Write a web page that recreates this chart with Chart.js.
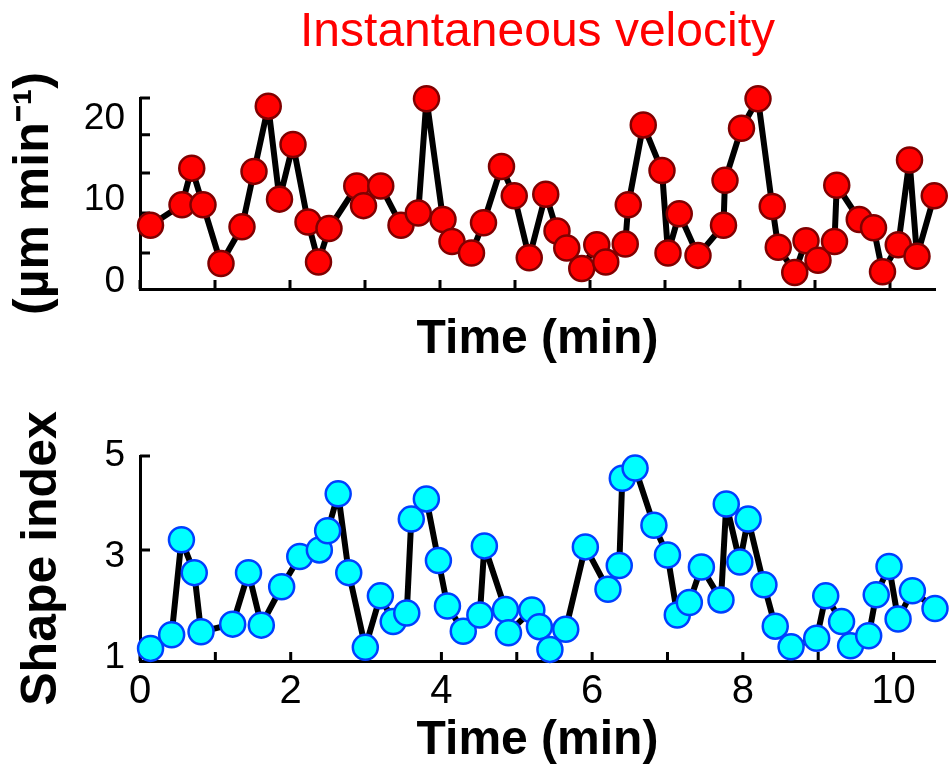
<!DOCTYPE html>
<html>
<head>
<meta charset="utf-8">
<script src="https://cdn.jsdelivr.net/npm/chart.js@4.4.1/dist/chart.umd.min.js"></script>
<style>
html, body { margin: 0; padding: 0; background: #fff; overflow: hidden; }
#velocityChart { position: absolute; left: 0; top: 0; }
#shapeChart { position: absolute; left: 0; top: 385px; }
</style>
</head>
<body>
<canvas id="velocityChart" width="950" height="385"></canvas>
<canvas id="shapeChart" width="950" height="390"></canvas>
<script>
// instantaneous velocity (um/min) against time (min)
var velTime = [0.14, 0.56, 0.69, 0.84, 1.08, 1.36, 1.52, 1.71, 1.86, 2.04,
               2.24, 2.38, 2.52, 2.89, 2.98, 3.21, 3.48, 3.71, 3.82, 4.04,
               4.16, 4.42, 4.58, 4.82, 4.99, 5.19, 5.41, 5.56, 5.69, 5.89,
               6.09, 6.21, 6.47, 6.51, 6.71, 6.96, 7.04, 7.19, 7.44, 7.78,
               7.80, 8.02, 8.24, 8.43, 8.51, 8.73, 8.88, 9.04, 9.26, 9.29,
               9.59, 9.78, 9.90, 10.11, 10.26, 10.36, 10.59];
var velValues = [6.9, 9.4, 13.9, 9.4, 2.2, 6.7, 13.5, 21.5, 10.1, 16.8,
                 7.3, 2.4, 6.5, 11.7, 9.3, 11.7, 6.9, 8.4, 22.4, 7.6,
                 4.9, 3.5, 7.2, 14.1, 10.5, 2.9, 10.7, 6.2, 4.1, 1.6,
                 4.5, 2.4, 4.6, 9.4, 19.2, 13.6, 3.5, 8.3, 3.2, 6.9,
                 12.4, 18.8, 22.4, 9.2, 4.2, 1.1, 5.0, 2.6, 4.9, 11.8,
                 7.6, 6.6, 1.2, 4.5, 14.9, 3.1, 10.5];

// shape index against time (min)
var shapeTime = [0.14, 0.42, 0.55, 0.72, 0.81, 1.23, 1.44, 1.61, 1.88, 2.12,
                 2.38, 2.49, 2.63, 2.77, 2.99, 3.19, 3.36, 3.54, 3.60, 3.80,
                 3.96, 4.08, 4.29, 4.51, 4.57, 4.85, 4.89, 5.20, 5.30, 5.44,
                 5.65, 5.91, 6.21, 6.36, 6.40, 6.57, 6.82, 7.00, 7.13, 7.29,
                 7.45, 7.71, 7.78, 7.96, 8.07, 8.28, 8.43, 8.64, 8.98, 9.10,
                 9.31, 9.43, 9.67, 9.77, 9.94, 10.06, 10.25, 10.55];
var shapeValues = [1.19, 1.46, 3.34, 2.69, 1.52, 1.67, 2.69, 1.65, 2.41, 3.01,
                   3.14, 3.52, 4.25, 2.69, 1.21, 2.23, 1.72, 1.89, 3.75, 4.15,
                   2.93, 2.03, 1.53, 1.85, 3.22, 1.96, 1.50, 1.95, 1.62, 1.17,
                   1.57, 3.20, 2.36, 2.83, 4.56, 4.76, 3.63, 3.04, 1.85, 2.10,
                   2.80, 2.15, 4.05, 2.90, 3.75, 2.45, 1.63, 1.22, 1.39, 2.23,
                   1.72, 1.24, 1.44, 2.25, 2.81, 1.77, 2.33, 1.98];

// axis ticks
var timeTicks = [0, 1, 2, 3, 4, 5, 6, 7, 8, 9, 10];
var timeLabels = [0, 2, 4, 6, 8, 10];
var velTicks = [0, 3.5, 8.4, 10, 13.3, 18, 20, 22.5];
var velLabels = [0, 10, 20];
var velMarks = [3.5, 8.4, 13.3, 18, 22.5];
var shapeTicks = [1, 3, 3.14, 5];
var shapeLabels = [1, 3, 5];
var shapeMarks = [3.14, 5];

Chart.defaults.font.family = "'Liberation Sans', Arial, sans-serif";
Chart.defaults.color = '#000';

// short tick marks pointing into the plot, like the original figure
var innerTicks = {
    id: 'innerTicks',
    beforeDatasetsDraw: (chart, args, opts) => {
        var ctx = chart.ctx;
        var area = chart.chartArea;
        ctx.save();
        ctx.strokeStyle = '#000';
        ctx.lineWidth = 3;
        ctx.beginPath();
        opts.x.forEach(v => {
            var px = chart.scales.x.getPixelForValue(v);
            ctx.moveTo(px, area.bottom);
            ctx.lineTo(px, area.bottom - 9);
        });
        opts.y.forEach(v => {
            var py = chart.scales.y.getPixelForValue(v);
            ctx.moveTo(area.left, py);
            ctx.lineTo(area.left + 10, py);
        });
        ctx.stroke();
        ctx.restore();
    }
};

var toPoints = (xs, ys) => xs.map((x, i) => ({ x: x, y: ys[i] }));
var setTicks = (values) => (scale) => { scale.ticks = values.map(v => ({ value: v })); };
var showOnly = (list) => (value) => list.indexOf(value) >= 0 ? String(value) : '';

var makeConfig = (cfg) => ({
    type: 'line',
    data: {
        datasets: [{
            data: toPoints(cfg.xs, cfg.ys),
            borderColor: '#000',
            borderWidth: 6,
            borderJoinStyle: 'round',
            pointRadius: 12.5,
            pointBorderWidth: 2.5,
            pointBackgroundColor: cfg.fill,
            pointBorderColor: cfg.ring,
            tension: 0,
            clip: false
        }]
    },
    options: {
        responsive: false,
        animation: false,
        layout: { padding: cfg.padding },
        plugins: {
            legend: { display: false },
            tooltip: { enabled: false },
            title: cfg.title,
            innerTicks: { x: timeTicks, y: cfg.marks }
        },
        scales: {
            x: {
                type: 'linear',
                min: 0,
                max: cfg.xMax,
                afterBuildTicks: setTicks(timeTicks),
                afterFit: (scale) => { scale.height = cfg.xHeight; },
                grid: { display: false, drawTicks: false },
                border: { display: true, color: '#000', width: 3 },
                ticks: {
                    display: cfg.xLabels,
                    autoSkip: false,
                    maxRotation: 0,
                    padding: 11,
                    font: { size: 40, lineHeight: 1 },
                    callback: showOnly(timeLabels)
                },
                title: {
                    display: true,
                    text: 'Time (min)',
                    font: { size: 48, weight: 'bold', lineHeight: 1 },
                    padding: { top: 0, bottom: cfg.xTitleBottom }
                }
            },
            y: {
                type: 'linear',
                min: cfg.yMin,
                max: cfg.yMax,
                afterBuildTicks: setTicks(cfg.ticks),
                afterFit: (scale) => { scale.width = 140; },
                grid: { display: false, drawTicks: false },
                border: { display: true, color: '#000', width: 3 },
                ticks: {
                    autoSkip: false,
                    padding: 15,
                    font: { size: 37, lineHeight: 1 },
                    callback: showOnly(cfg.labels)
                },
                title: {
                    display: true,
                    text: cfg.yTitle,
                    font: { size: 50, weight: 'bold', lineHeight: 1 },
                    padding: { top: cfg.yTitleLeft, bottom: 0 }
                }
            }
        }
    },
    plugins: [innerTicks]
});

new Chart(document.getElementById('velocityChart'), makeConfig({
    xs: velTime, ys: velValues,
    fill: '#ff0000', ring: '#800000',
    padding: { top: 0, right: 15, bottom: 0, left: 0 },
    title: {
        display: true,
        text: 'Instantaneous velocity',
        color: '#ff0000',
        fullSize: false,
        font: { size: 48, weight: 'normal', lineHeight: 1 },
        padding: { top: 9, bottom: 41 }
    },
    marks: velMarks, ticks: velTicks, labels: velLabels,
    xMax: 10.6, xHeight: 96, xLabels: false, xTitleBottom: 21,
    yMin: -0.92, yMax: 22.5,
    yTitle: '(\u00b5m min\u207b\u00b9)', yTitleLeft: 9
}));

new Chart(document.getElementById('shapeChart'), makeConfig({
    xs: shapeTime, ys: shapeValues,
    fill: '#00ffff', ring: '#0040ff',
    padding: { top: 71, right: 8, bottom: 0, left: 0 },
    title: { display: false },
    marks: shapeMarks, ticks: shapeTicks, labels: shapeLabels,
    xMax: 10.55, xHeight: 114, xLabels: true, xTitleBottom: 10,
    yMin: 0.94, yMax: 5,
    yTitle: 'Shape index', yTitleLeft: 17
}));
</script>
</body>
</html>
